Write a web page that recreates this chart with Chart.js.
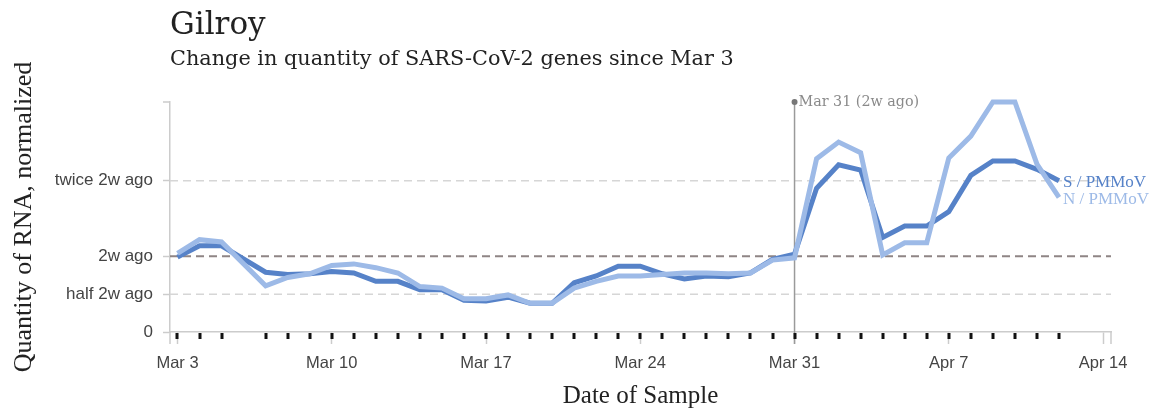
<!DOCTYPE html>
<html>
<head>
<meta charset="utf-8">
<script src="https://cdn.jsdelivr.net/npm/chart.js@4"></script>
<style>
  html, body { margin: 0; padding: 0; background: #fff; }
  #wrap { width: 1151px; height: 410px; position: relative; }
</style>
</head>
<body>
<div id="wrap"><canvas id="myChart" width="1151" height="410"></canvas></div>
<script>
// sample dates (Mar 6 has no sample)
const sampleDates = ['Mar 3', 'Mar 4', 'Mar 5', 'Mar 7', 'Mar 8', 'Mar 9', 'Mar 10', 'Mar 11', 'Mar 12', 'Mar 13',
    'Mar 14', 'Mar 15', 'Mar 16', 'Mar 17', 'Mar 18', 'Mar 19', 'Mar 20', 'Mar 21', 'Mar 22', 'Mar 23',
    'Mar 24', 'Mar 25', 'Mar 26', 'Mar 27', 'Mar 28', 'Mar 29', 'Mar 30', 'Mar 31', 'Apr 1', 'Apr 2',
    'Apr 3', 'Apr 4', 'Apr 5', 'Apr 6', 'Apr 7', 'Apr 8', 'Apr 9', 'Apr 10', 'Apr 11', 'Apr 12'];

// S / PMMoV, normalized to 2 weeks ago
const sValues = [0.99, 1.14, 1.14, 0.79, 0.76, 0.77, 0.80, 0.78, 0.67, 0.67,
    0.56, 0.56, 0.42, 0.41, 0.46, 0.38, 0.38, 0.65, 0.74, 0.87,
    0.87, 0.77, 0.70, 0.74, 0.73, 0.78, 0.96, 1.03, 1.90, 2.21,
    2.14, 1.25, 1.40, 1.40, 1.59, 2.07, 2.26, 2.26, 2.15, 2.00];

// N / PMMoV
const nValues = [1.04, 1.22, 1.19, 0.61, 0.72, 0.77, 0.88, 0.90, 0.85, 0.78,
    0.60, 0.58, 0.44, 0.44, 0.49, 0.38, 0.38, 0.58, 0.67, 0.74,
    0.74, 0.76, 0.78, 0.78, 0.77, 0.78, 0.95, 0.98, 2.29, 2.51,
    2.37, 1.02, 1.18, 1.18, 2.30, 2.59, 3.04, 3.04, 2.22, 1.78];

const xTickLabels = ['Mar 3', 'Mar 10', 'Mar 17', 'Mar 24', 'Mar 31', 'Apr 7', 'Apr 14'];
const yTickValues = [0, 0.5, 1, 2];
const yTickLabels = ['0', 'half 2w ago', '2w ago', 'twice 2w ago'];

const refDate = 'Mar 31';
const refLabel = 'Mar 31 (2w ago)';

const sColor = '#5682c8';
const nColor = '#9dbae7';

// day number counted from Mar 3
function dayNum(label) {
    const parts = label.split(' ');
    const start = { Mar: 0, Apr: 31 };
    return start[parts[0]] + parseInt(parts[1]) - 3;
}

const serif = '"DejaVu Serif", serif';
const serif2 = '"Liberation Serif", serif';
const sans = '"Liberation Sans", Arial, sans-serif';

const decorPlugin = {
    id: 'decor',
    beforeDatasetsDraw(chart) {
        const ctx = chart.ctx;
        const area = chart.chartArea;
        const y = chart.scales.y;

        ctx.save();
        // horizontal reference lines
        [[0.5, '#d6d6d6', 1.5], [2, '#d6d6d6', 1.5], [1, '#8f8585', 2]].forEach(([v, c, w]) => {
            const py = y.getPixelForValue(v);
            ctx.strokeStyle = c;
            ctx.lineWidth = w;
            ctx.setLineDash([8, 5]);
            ctx.beginPath();
            ctx.moveTo(area.left, py);
            ctx.lineTo(area.right, py);
            ctx.stroke();
        });
        ctx.setLineDash([]);

        // outer ticks of the axes
        ctx.strokeStyle = '#cccccc';
        ctx.lineWidth = 1.5;
        ctx.beginPath();
        ctx.moveTo(area.left - 7, area.top);
        ctx.lineTo(area.left, area.top);
        ctx.moveTo(area.left, area.bottom);
        ctx.lineTo(area.left, area.bottom + 12);
        ctx.moveTo(area.right, area.bottom);
        ctx.lineTo(area.right, area.bottom + 12);
        ctx.stroke();

        // 2 weeks ago marker
        const rx = chart.scales.x.getPixelForValue(dayNum(refDate));
        ctx.strokeStyle = '#9a9a9a';
        ctx.lineWidth = 1.5;
        ctx.beginPath();
        ctx.moveTo(rx, area.top);
        ctx.lineTo(rx, area.bottom + 12);
        ctx.stroke();
        ctx.restore();
    },
    afterDatasetsDraw(chart) {
        const ctx = chart.ctx;
        const area = chart.chartArea;
        const x = chart.scales.x;

        ctx.save();
        // sample marks on the baseline
        ctx.fillStyle = '#111';
        sampleDates.forEach(d => {
            const px = x.getPixelForValue(dayNum(d));
            ctx.fillRect(Math.round(px) - 1.5, area.bottom + 1, 3, 6);
        });

        // marker dot and label
        const rx = x.getPixelForValue(dayNum(refDate));
        ctx.fillStyle = '#777';
        ctx.beginPath();
        ctx.arc(rx, area.top, 3, 0, Math.PI * 2);
        ctx.fill();
        ctx.fillStyle = '#8a8a8a';
        ctx.font = '14.3px ' + serif;
        ctx.textBaseline = 'middle';
        ctx.textAlign = 'left';
        ctx.fillText(refLabel, rx + 4, area.top);

        // series labels at line ends
        const last = sampleDates.length - 1;
        const ex = x.getPixelForValue(dayNum(sampleDates[last])) + 4;
        ctx.font = '17px ' + serif2;
        ctx.fillStyle = sColor;
        ctx.fillText('S / PMMoV', ex, 183);
        ctx.fillStyle = nColor;
        ctx.fillText('N / PMMoV', ex, 200);

        // titles
        ctx.fillStyle = '#222';
        ctx.textBaseline = 'alphabetic';
        ctx.font = '31px ' + serif;
        ctx.fillText('Gilroy', area.left, 34);
        ctx.font = '20.8px ' + serif;
        ctx.fillText('Change in quantity of SARS-CoV-2 genes since Mar 3', area.left, 65);

        // axis titles
        ctx.font = '25px ' + serif2;
        ctx.textAlign = 'center';
        ctx.textBaseline = 'middle';
        ctx.fillText('Date of Sample', (area.left + area.right) / 2, 396);
        ctx.translate(24, 217);
        ctx.rotate(-Math.PI / 2);
        ctx.font = '26px ' + serif2;
        ctx.fillText('Quantity of RNA, normalized', 0, 0);
        ctx.restore();
    }
};

const ctx = document.getElementById('myChart').getContext('2d');
const lineChart = new Chart(ctx, {
    type: 'line',
    data: {
        datasets: [
            {
                label: 'S / PMMoV',
                data: sampleDates.map((d, i) => ({ x: dayNum(d), y: sValues[i] })),
                borderColor: sColor,
                borderWidth: 5,
                pointRadius: 0,
                tension: 0,
                clip: false,
                order: 1,
            },
            {
                label: 'N / PMMoV',
                data: sampleDates.map((d, i) => ({ x: dayNum(d), y: nValues[i] })),
                borderColor: nColor,
                borderWidth: 5,
                pointRadius: 0,
                tension: 0,
                clip: false,
                order: 0,
            },
        ],
    },
    options: {
        responsive: false,
        animation: false,
        layout: { padding: { left: 0, top: 102, right: 40, bottom: 0 } },
        plugins: {
            legend: { display: false },
            tooltip: { enabled: false },
        },
        scales: {
            x: {
                type: 'linear',
                min: -0.34,
                max: 42.36,
                afterBuildTicks: s => { s.ticks = xTickLabels.map(l => ({ value: dayNum(l) })); },
                afterFit: s => { s.height = 78; },
                ticks: {
                    callback: (v, i) => xTickLabels[i],
                    color: '#444',
                    font: { family: sans, size: 16.5 },
                    padding: 10,
                    maxRotation: 0,
                    autoSkip: false,
                },
                grid: { drawOnChartArea: false, drawTicks: true, tickLength: 12, tickColor: '#cccccc', tickWidth: 1.5 },
                border: { display: true, color: '#cccccc', width: 1.5 },
            },
            y: {
                min: 0,
                max: 3.04,
                afterBuildTicks: s => { s.ticks = yTickValues.map(v => ({ value: v })); },
                afterFit: s => { s.width = 170; },
                ticks: {
                    callback: (v, i) => yTickLabels[i],
                    color: '#444',
                    font: { family: sans, size: 17 },
                    padding: 10,
                },
                grid: { drawOnChartArea: false, drawTicks: true, tickLength: 7, tickColor: '#cccccc', tickWidth: 1.5 },
                border: { display: true, color: '#cccccc', width: 1.5 },
            },
        },
    },
    plugins: [decorPlugin],
});
</script>
</body>
</html>
